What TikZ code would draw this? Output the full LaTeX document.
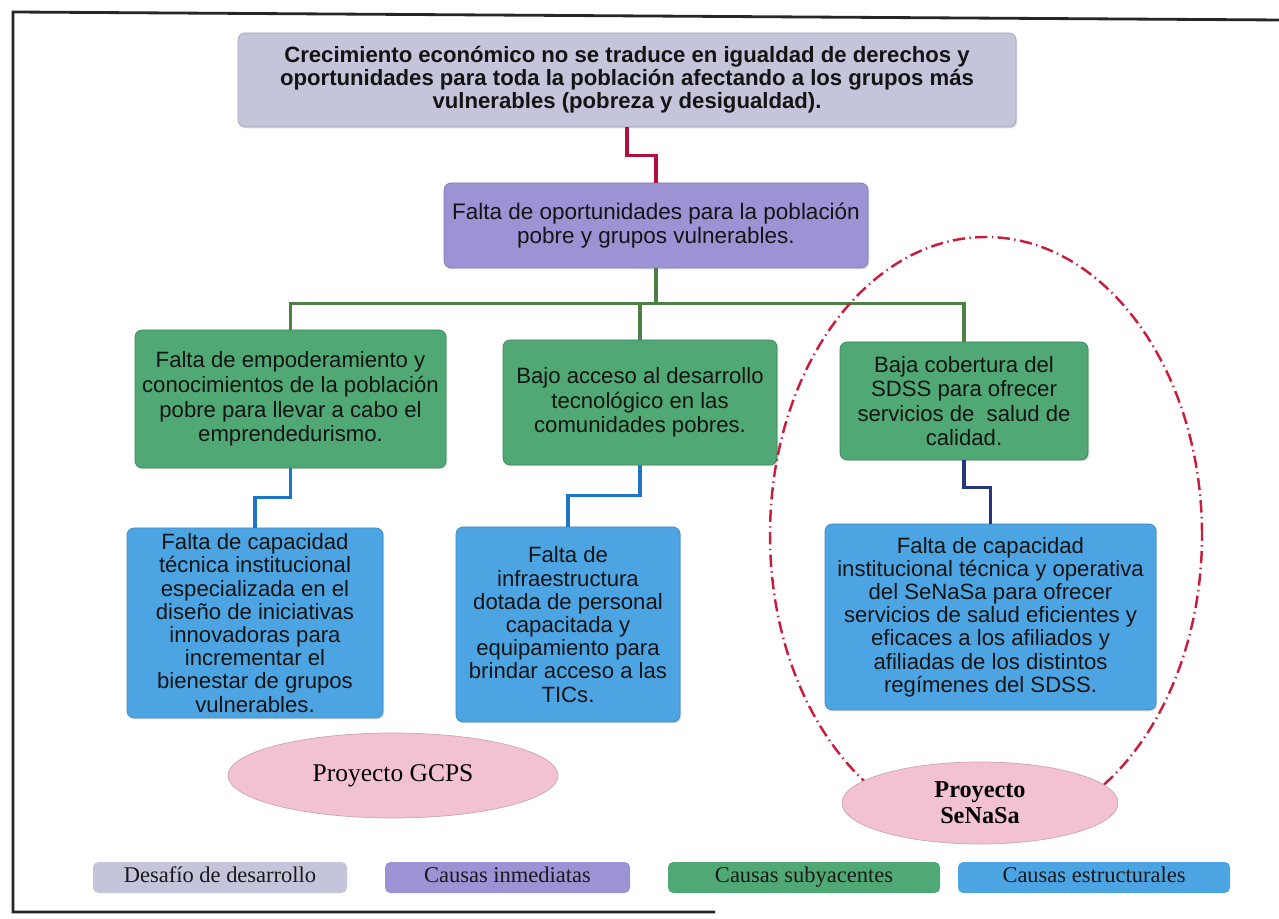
\documentclass[tikz,border=0pt]{standalone}
\usepackage{fontspec}
\setmainfont{Liberation Serif}
\newfontfamily\boxfont{Liberation Sans}
\usepackage{tikz}
\usetikzlibrary{calc,shapes.geometric,shadows}

\definecolor{desafioc}{HTML}{C4C4DA}
\definecolor{inmediatac}{HTML}{9C93D4}
\definecolor{subyacentec}{HTML}{50A874}
\definecolor{estructuralc}{HTML}{4CA4E2}
\definecolor{proyectoc}{HTML}{F2C2D2}
\definecolor{rojolinea}{HTML}{B0103A}
\definecolor{verdelinea}{HTML}{4E7F45}
\definecolor{azullinea}{HTML}{1E77C6}
\definecolor{navylinea}{HTML}{27357A}
\definecolor{rojocirculo}{HTML}{C81E3C}

\tikzset{
	causa/.style={rounded corners=4pt, align=center, inner sep=2pt, text=black!92,
		drop shadow={opacity=0.25, shadow xshift=0.8pt, shadow yshift=-0.8pt},
		font=\boxfont\fontsize{12.6}{13.2}\selectfont},
	desafio/.style={causa, fill=desafioc, draw=desafioc!85!black,
		font=\boxfont\bfseries\fontsize{12.6}{13}\selectfont},
	inmediata/.style={causa, fill=inmediatac, draw=inmediatac!85!black,
		font=\boxfont\fontsize{12.8}{14}\selectfont},
	subyacente/.style={causa, fill=subyacentec, draw=subyacentec!80!black,
		font=\boxfont\fontsize{12.6}{14}\selectfont},
	estructural/.style={causa, fill=estructuralc, draw=estructuralc!85!black},
	proyecto/.style={ellipse, fill=proyectoc, draw=proyectoc!85!black, inner sep=0pt,
		font=\fontsize{14.5}{16}\selectfont},
	leyenda/.style={rounded corners=3pt, minimum height=0.62cm, inner sep=0pt,
		text height=1.6ex, text depth=0.4ex,
		text=black!90, font=\fontsize{12.8}{14}\selectfont},
	enlace/.style={line width=2pt},
}

\begin{document}
\begin{tikzpicture}
			%%%%% START %%%%%
			\useasboundingbox (0, 0) rectangle (25.58, 18.36);
			
			\draw[line width=1.6pt, color=black!85] (14.30, 0.12) -- (0.26, 0.12) -- (0.26, 18.12) -- (25.58, 17.96);
			
			% desafio e inmediata
			\node[desafio, minimum width=15.56cm, minimum height=1.88cm] (crecimiento) at (12.54, 16.76)
				{Crecimiento económico no se traduce en igualdad de derechos y\\
				oportunidades para toda la población afectando a los grupos más\\
				vulnerables (pobreza y desigualdad).};
			\node[inmediata, minimum width=8.48cm, minimum height=1.70cm] (oportunidades) at (13.12, 13.85)
				{Falta de oportunidades para la población\\ pobre y grupos vulnerables.};
			
			% causas subyacentes
			\node[subyacente, minimum width=6.22cm, minimum height=2.76cm] (empoderamiento) at (5.81, 10.38)
				{Falta de empoderamiento y\\ conocimientos de la población\\ pobre para llevar a cabo el\\ emprendedurismo.};
			\node[subyacente, minimum width=5.48cm, minimum height=2.50cm] (tecnologia) at (12.80, 10.31)
				{Bajo acceso al desarrollo\\ tecnológico en las\\ comunidades pobres.};
			\node[subyacente, minimum width=4.96cm, minimum height=2.36cm] (cobertura) at (19.28, 10.34)
				{Baja cobertura del\\ SDSS para ofrecer\\ servicios de \ salud de\\ calidad.};
			
			% causas estructurales
			\node[estructural, minimum width=5.12cm, minimum height=3.80cm] (capacidad) at (5.10, 5.90)
				{Falta de capacidad\\ técnica institucional\\ especializada en el\\ diseño de iniciativas\\
				innovadoras para\\ incrementar el\\ bienestar de grupos\\ vulnerables.};
			\node[estructural, minimum width=4.48cm, minimum height=3.90cm] (infraestructura) at (11.36, 5.87)
				{Falta de\\ infraestructura\\ dotada de personal\\ capacitada y\\ equipamiento para\\
				brindar acceso a las\\ TICs.};
			\node[estructural, minimum width=6.62cm, minimum height=3.72cm] (senasa) at (19.81, 6.02)
				{Falta de capacidad\\ institucional técnica y operativa\\ del SeNaSa para ofrecer\\
				servicios de salud eficientes y\\ eficaces a los afiliados y\\ afiliadas de los distintos\\
				regímenes del SDSS.};
			
			% enlaces
			\draw[enlace, color=rojolinea] (crecimiento.south) -- ++(0, -0.56) -| (oportunidades.north);
			\draw[enlace, color=verdelinea] (oportunidades.south) -- ++(0, -0.70) coordinate (bus);
			\draw[enlace, color=verdelinea] (bus) -| (empoderamiento.north);
			\draw[enlace, color=verdelinea] (bus) -| (tecnologia.north);
			\draw[enlace, color=verdelinea] (bus) -| (cobertura.north);
			\draw[enlace, color=azullinea] (empoderamiento.south) -- ++(0, -0.58) -| (capacidad.north);
			\draw[enlace, color=azullinea] (tecnologia.south) -- ++(0, -0.60) -| (infraestructura.north);
			\draw[enlace, color=navylinea] (cobertura.south) -- ++(0, -0.54) -| (senasa.north);
			
			% proyectos
			\draw[line width=1.4pt, color=rojocirculo, dash pattern=on 7pt off 2.5pt on 0.8pt off 2.5pt]
				(19.72, 7.66) ellipse (4.32 and 5.96);
			\node[proyecto, minimum width=6.60cm, minimum height=1.70cm] (gcps) at (7.86, 2.85) {Proyecto GCPS};
			\node[proyecto, minimum width=5.52cm, minimum height=1.64cm, align=center,
				font=\bfseries\fontsize{13.8}{15}\selectfont] (proysenasa) at (19.60, 2.30) {Proyecto\\ SeNaSa};
			
			% leyenda
			\node[leyenda, fill=desafioc, minimum width=5.08cm] (leydesafio) at (4.40, 0.81) {Desafío de desarrollo};
			\node[leyenda, fill=inmediatac, minimum width=4.90cm] (leyinmediata) at (10.15, 0.81) {Causas inmediatas};
			\node[leyenda, fill=subyacentec, minimum width=5.44cm] (leysubyacente) at (16.08, 0.81) {Causas subyacentes};
			\node[leyenda, fill=estructuralc, minimum width=5.44cm] (leyestructural) at (21.88, 0.81) {Causas estructurales};
			
			%%%%% END %%%%%
\end{tikzpicture}
\end{document}
